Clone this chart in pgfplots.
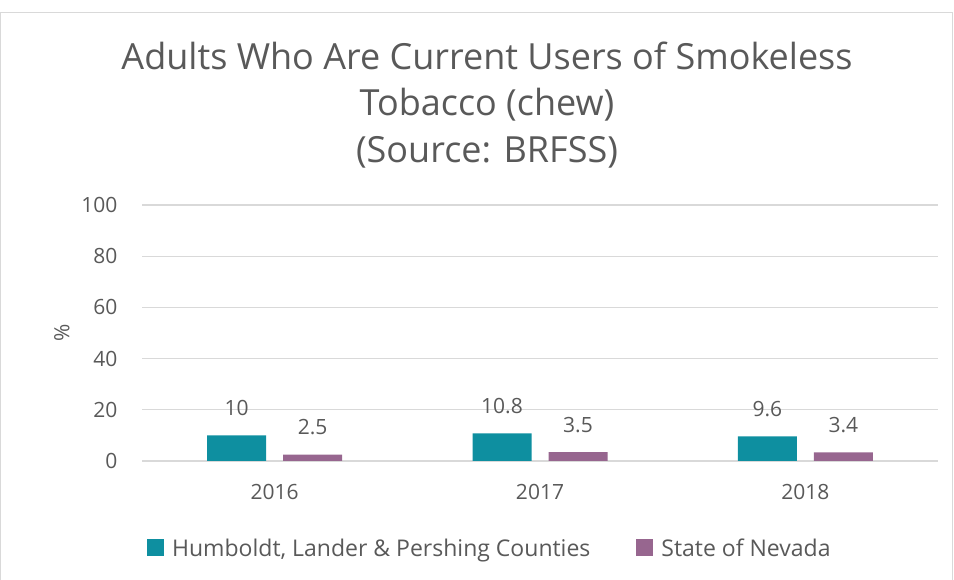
\documentclass[border=0pt]{standalone}
\usepackage{pgfplots}
\pgfplotsset{compat=1.18}
\usepackage{fontspec}
\setmainfont{Open Sans}
\definecolor{hum}{HTML}{0E8FA0}
\definecolor{nev}{HTML}{97668F}
\definecolor{txt}{HTML}{595959}
\definecolor{grd}{HTML}{D9D9D9}
\begin{document}
\begin{tikzpicture}[x=1bp,y=1bp]
\useasboundingbox (0,0) rectangle (954,580);
\draw[grd] (0.5,-2) -- (0.5,568) -- (952,568) -- (952,-2);
\node[align=center,text=txt,font=\fontsize{36bp}{46.5bp}\selectfont] at (487,475)
  {Adults Who Are Current Users of Smokeless\\Tobacco (chew)\\(Source: BRFSS)};
\begin{axis}[
  at={(142bp,119bp)}, anchor=south west,
  scale only axis, width=796bp, height=256bp,
  xmin=-0.5, xmax=2.5, ymin=0, ymax=100,
  xtick={0,1,2}, xticklabels={2016,2017,2018},
  ytick={0,20,40,60,80,100},
  /pgf/number format/assume math mode=true,
  axis line style={draw=none},
  major tick length=0pt,
  ymajorgrids, grid style={grd, line width=1.2bp},
  tick label style={text=txt, font=\fontsize{21bp}{25bp}\selectfont},
  xticklabel style={yshift=-20bp},
  yticklabel style={xshift=-21bp},
  ylabel={\%}, ylabel style={text=txt, font=\fontsize{21bp}{25bp}\selectfont, yshift=5bp},
  ybar, bar width=59bp,
  nodes near coords,
  every node near coord/.append style={text=txt, font=\fontsize{21bp}{25bp}\selectfont, yshift=16bp},
  legend columns=2,
  legend style={draw=none, at={(0.437,-0.34)}, anchor=center, text=txt,
    font=\fontsize{23bp}{27bp}\selectfont,
    /tikz/every odd column/.append style={column sep=6bp},
    /tikz/every even column/.append style={column sep=44bp}},
  legend image code/.code={\fill[#1] (0bp,-8bp) rectangle (17bp,9bp);},
]
\addplot[fill=hum, draw=none, bar shift=-38bp] coordinates {(0,10) (1,10.8) (2,9.6)};
\addlegendentry{Humboldt, Lander \& Pershing Counties}
\addplot[fill=nev, draw=none, bar shift=38bp] coordinates {(0,2.5) (1,3.5) (2,3.4)};
\addlegendentry{State of Nevada}
\end{axis}
\end{tikzpicture}
\end{document}
